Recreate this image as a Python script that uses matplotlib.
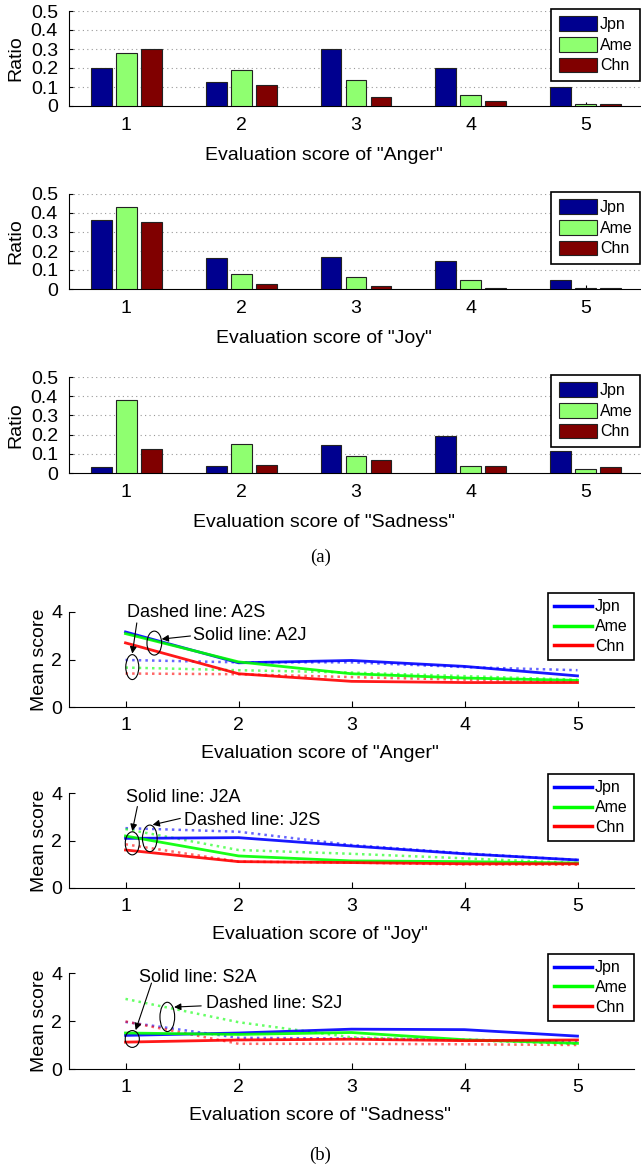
import matplotlib
matplotlib.use("Agg")
import matplotlib.pyplot as plt
from matplotlib.patches import Ellipse
import numpy as np

plt.rcParams['font.family'] = ['Liberation Sans', 'DejaVu Sans']

scores = [1, 2, 3, 4, 5]
groups = ['Jpn', 'Ame', 'Chn']
ratio_ticks = [0, 0.1, 0.2, 0.3, 0.4, 0.5]
ratio_ticklabels = ['0', '0.1', '0.2', '0.3', '0.4', '0.5']
mean_ticks = [0, 2, 4]

# (a) ratio of each evaluation score
anger_jpn = [0.20, 0.126, 0.30, 0.20, 0.10]
anger_ame = [0.277, 0.19, 0.135, 0.06, 0.009]
anger_chn = [0.30, 0.112, 0.045, 0.028, 0.01]
joy_jpn = [0.362, 0.161, 0.171, 0.148, 0.049]
joy_ame = [0.432, 0.077, 0.063, 0.049, 0.007]
joy_chn = [0.353, 0.024, 0.017, 0.007, 0.004]
sad_jpn = [0.033, 0.036, 0.148, 0.194, 0.115]
sad_ame = [0.378, 0.151, 0.089, 0.035, 0.021]
sad_chn = [0.123, 0.043, 0.066, 0.035, 0.03]

# (b) mean score, solid and dashed
a2j_jpn = [3.16, 1.86, 1.96, 1.71, 1.31]
a2j_ame = [3.09, 1.90, 1.40, 1.22, 1.12]
a2j_chn = [2.70, 1.40, 1.08, 1.03, 1.03]
a2s_jpn = [1.98, 1.88, 1.88, 1.68, 1.55]
a2s_ame = [1.66, 1.55, 1.45, 1.30, 1.15]
a2s_chn = [1.41, 1.38, 1.26, 1.15, 1.07]

j2a_jpn = [2.09, 2.12, 1.77, 1.44, 1.18]
j2a_ame = [2.19, 1.35, 1.14, 1.11, 1.05]
j2a_chn = [1.60, 1.11, 1.07, 1.02, 1.02]
j2s_jpn = [2.52, 2.37, 1.81, 1.46, 1.18]
j2s_ame = [2.48, 1.60, 1.44, 1.25, 1.05]
j2s_chn = [1.84, 1.11, 1.07, 0.99, 0.98]

s2a_jpn = [1.40, 1.50, 1.66, 1.64, 1.37]
s2a_ame = [1.50, 1.44, 1.52, 1.22, 1.07]
s2a_chn = [1.12, 1.21, 1.24, 1.18, 1.21]
s2j_jpn = [1.96, 1.30, 1.27, 1.22, 1.14]
s2j_ame = [2.92, 1.95, 1.32, 1.20, 1.05]
s2j_chn = [1.98, 1.05, 1.05, 1.03, 1.00]

W, H = 641, 1168
fig = plt.figure(figsize=(W / 100, H / 100), dpi=100)


def px_axes(left, top, right, bottom):
    return fig.add_axes([left / W, 1 - bottom / H, (right - left) / W, (bottom - top) / H])


bar_colors = ['#00008F', '#8FFF70', '#800000']
line_colors = ['#0000FF', '#00FF00', '#FF0000']
label_shift = 32  # xlabel sits a bit left of the axes centre in the original


def bar_panel(top, bottom, vals, emotion):
    ax = px_axes(69, top, 643, bottom)
    x = np.array(scores)
    for i, (v, c) in enumerate(zip(vals, bar_colors)):
        ax.bar(x + (i - 1) * 0.218, v, width=0.18, color=c, edgecolor='#222222',
               linewidth=0.8, label=groups[i], zorder=3)
    ax.set_xlim(0.5, 5.5)
    ax.set_ylim(0, 0.5)
    ax.set_yticks(ratio_ticks)
    ax.set_yticklabels(ratio_ticklabels)
    ax.set_xticks(scores)
    for y in ratio_ticks[1:]:
        ax.axhline(y, color='#999999', linestyle=(0, (1, 3)), linewidth=0.8, zorder=1)
    ax.spines['top'].set_visible(False)
    ax.spines['right'].set_visible(False)
    ax.tick_params(direction='in', length=3, labelsize=14, width=0.8)
    ax.tick_params(axis='y', pad=8)
    ax.tick_params(axis='x', pad=8)
    ax.set_ylabel('Ratio', fontsize=14, va='center')
    ax.yaxis.set_label_coords(-0.092, 0.5)
    ax.set_xlabel('Evaluation score of "%s"' % emotion, fontsize=14, va='center')
    ax.xaxis.set_label_coords(0.5 - label_shift / 574, -(155 - 106) / 95)
    leg = ax.legend(loc='upper right', bbox_to_anchor=(0.995, 1.02), fontsize=11.5,
                    handlelength=2.4, handleheight=1.05, handletextpad=0.2,
                    labelspacing=0.3, borderpad=0.45, borderaxespad=0,
                    fancybox=False, framealpha=1, edgecolor='black')
    leg.get_frame().set_linewidth(1.2)
    return ax


def line_panel(top, bottom, solid, dashed, emotion, notes):
    ax = px_axes(69, top, 634, bottom)
    for v, c in zip(dashed, line_colors):
        ax.plot(scores, v, linestyle=':', color=c, linewidth=1.8, alpha=0.6, zorder=2)
    for v, c, g in zip(solid, line_colors, groups):
        ax.plot(scores, v, linestyle='-', color=c, linewidth=2.0, alpha=0.9, label=g, zorder=3)
    ax.set_xlim(0.5, 5.5)
    ax.set_ylim(0, 4)
    ax.set_yticks(mean_ticks)
    ax.set_xticks(scores)
    ax.spines['top'].set_visible(False)
    ax.spines['right'].set_visible(False)
    ax.tick_params(direction='in', length=4, labelsize=14, width=0.8)
    ax.tick_params(axis='y', pad=5)
    ax.tick_params(axis='x', pad=7)
    ax.set_ylabel('Mean score', fontsize=14, va='center')
    ax.yaxis.set_label_coords(-0.053, 0.5)
    ax.set_xlabel('Evaluation score of "%s"' % emotion, fontsize=14, va='center')
    ax.xaxis.set_label_coords(0.5 - label_shift / 565, -(46 / 95))
    leg = ax.legend(loc='upper right', bbox_to_anchor=(1.0, 1.2), fontsize=11.5,
                    handlelength=2.4, handletextpad=0.15, labelspacing=0.3,
                    borderpad=0.4, borderaxespad=0, fancybox=False, framealpha=1,
                    edgecolor='black')
    leg.get_frame().set_linewidth(1.2)
    for ln in leg.get_lines():
        ln.set_linewidth(2.5)
        ln.set_alpha(1)
    for kind, args in notes:
        if kind == 'text':
            x, y, s = args
            ax.text(x, y, s, fontsize=13, va='center', ha='left', clip_on=False)
        elif kind == 'ellipse':
            x, y, w, h = args
            ax.add_patch(Ellipse((x, y), w, h, fill=False, edgecolor='black',
                                 linewidth=0.8, zorder=5, clip_on=False))
        else:
            x0, y0, x1, y1 = args
            ax.annotate('', xy=(x1, y1), xytext=(x0, y0),
                        arrowprops=dict(arrowstyle='-|>', color='black', lw=0.8,
                                        mutation_scale=10, shrinkA=0, shrinkB=0))
    return ax


bar_panel(11, 106, [anger_jpn, anger_ame, anger_chn], 'Anger')
bar_panel(194, 289, [joy_jpn, joy_ame, joy_chn], 'Joy')
bar_panel(377, 473, [sad_jpn, sad_ame, sad_chn], 'Sadness')

notes_anger = [
    ('text', (1.015, 3.96, 'Dashed line: A2S')),
    ('text', (1.60, 3.03, 'Solid line: A2J')),
    ('ellipse', (1.06, 1.68, 0.115, 1.05)),
    ('ellipse', (1.255, 2.69, 0.13, 1.01)),
    ('arrow', (1.10, 3.54, 1.06, 2.25)),
    ('arrow', (1.575, 2.99, 1.32, 2.86)),
]
notes_joy = [
    ('text', (1.0, 3.81, 'Solid line: J2A')),
    ('text', (1.52, 2.85, 'Dashed line: J2S')),
    ('ellipse', (1.06, 1.88, 0.124, 0.97)),
    ('ellipse', (1.215, 2.09, 0.13, 1.12)),
    ('arrow', (1.105, 3.43, 1.06, 2.40)),
    ('arrow', (1.485, 2.93, 1.24, 2.66)),
]
notes_sad = [
    ('text', (1.12, 3.83, 'Solid line: S2A')),
    ('text', (1.71, 2.75, 'Dashed line: S2J')),
    ('ellipse', (1.06, 1.25, 0.125, 0.70)),
    ('ellipse', (1.37, 2.17, 0.13, 1.22)),
    ('arrow', (1.23, 3.58, 1.09, 1.62)),
    ('arrow', (1.67, 2.63, 1.43, 2.58)),
]

line_panel(612, 707, [a2j_jpn, a2j_ame, a2j_chn], [a2s_jpn, a2s_ame, a2s_chn], 'Anger', notes_anger)
line_panel(793, 888, [j2a_jpn, j2a_ame, j2a_chn], [j2s_jpn, j2s_ame, j2s_chn], 'Joy', notes_joy)
line_panel(973, 1069, [s2a_jpn, s2a_ame, s2a_chn], [s2j_jpn, s2j_ame, s2j_chn], 'Sadness', notes_sad)

fig.text(0.5, 1 - 557 / H, '(a)', ha='center', va='center', fontsize=13.5,
         family=['Liberation Serif', 'DejaVu Serif'])
fig.text(0.5, 1 - 1155 / H, '(b)', ha='center', va='center', fontsize=13.5,
         family=['Liberation Serif', 'DejaVu Serif'])

fig.savefig('out.png', dpi=100)
